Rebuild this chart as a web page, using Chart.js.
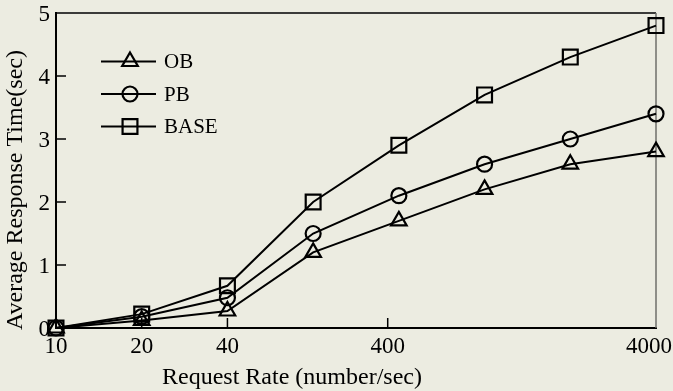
<!DOCTYPE html>
<html>
<head>
<meta charset="utf-8">
<script src="https://cdn.jsdelivr.net/npm/chart.js@4/dist/chart.umd.min.js"></script>
<style>
  html, body { margin: 0; padding: 0; background: #ECECE1; }
  #wrap { width: 673px; height: 391px; }
</style>
</head>
<body>
<div id="wrap"><canvas id="c" width="673" height="391"></canvas></div>
<script>
// Measurement steps along the request-rate axis (evenly spaced)
const pointIndex = [0, 1, 2, 3, 4, 5, 6, 7];

// Average response time (sec) per scheme
const obTimes   = [0, 0.12, 0.27, 1.20, 1.70, 2.20, 2.60, 2.80];
const pbTimes   = [0, 0.18, 0.48, 1.50, 2.10, 2.60, 3.00, 3.40];
const baseTimes = [0, 0.22, 0.67, 2.00, 2.90, 3.70, 4.30, 4.80];

// Request-rate tick labels and where they sit on the step axis
const rateTickAt     = [0, 1, 2, 3.87, 7];
const rateTickLabels = ['10', '20', '40', '400', '4000'];

const seriesNames = ['OB', 'PB', 'BASE'];

const SERIF = "'Liberation Serif', 'Times New Roman', serif";
const BG = '#ECECE1';

function pts(values) {
  return pointIndex.map((x, i) => ({ x: x, y: values[i] }));
}

function series(label, values, pointStyle, radius) {
  return {
    label: label,
    data: pts(values),
    borderColor: '#000',
    borderWidth: 2,
    backgroundColor: 'rgba(0,0,0,0)',
    pointStyle: pointStyle,
    pointRadius: radius,
    pointHoverRadius: radius,
    pointBorderWidth: 2.2,
    pointBorderColor: '#000',
    pointBackgroundColor: 'rgba(0,0,0,0)',
    tension: 0,
    clip: false
  };
}

// Background, frame, inward ticks, x labels, axis titles and in-plot legend
const decorations = {
  id: 'decorations',
  beforeDraw(chart) {
    const ctx = chart.ctx;
    ctx.save();
    ctx.fillStyle = BG;
    ctx.fillRect(0, 0, chart.width, chart.height);
    ctx.restore();
  },
  beforeDatasetsDraw(chart) {
    const ctx = chart.ctx;
    const a = chart.chartArea;
    const xs = chart.scales.x;
    const ys = chart.scales.y;
    ctx.save();

    // top and right frame
    ctx.lineWidth = 1.5;
    ctx.strokeStyle = '#000';
    ctx.beginPath();
    ctx.moveTo(a.left, a.top);
    ctx.lineTo(a.right, a.top);
    ctx.stroke();
    ctx.strokeStyle = '#6f6f6a';
    ctx.beginPath();
    ctx.moveTo(a.right, a.top);
    ctx.lineTo(a.right, a.bottom);
    ctx.stroke();

    // inward tick marks
    ctx.strokeStyle = '#000';
    ctx.lineWidth = 1.5;
    ys.ticks.forEach(t => {
      if (t.value <= ys.min || t.value >= ys.max) return;
      const py = ys.getPixelForValue(t.value);
      ctx.beginPath();
      ctx.moveTo(a.left, py);
      ctx.lineTo(a.left + 10, py);
      ctx.stroke();
    });
    rateTickAt.forEach(v => {
      if (v <= xs.min || v >= xs.max) return;
      const px = xs.getPixelForValue(v);
      ctx.beginPath();
      ctx.moveTo(px, a.bottom);
      ctx.lineTo(px, a.bottom - 10);
      ctx.stroke();
    });

    // x tick labels, kept inside the canvas
    ctx.fillStyle = '#000';
    ctx.font = '23px ' + SERIF;
    ctx.textBaseline = 'middle';
    ctx.textAlign = 'left';
    rateTickLabels.forEach((lab, i) => {
      const w = ctx.measureText(lab).width;
      let px = xs.getPixelForValue(rateTickAt[i]) - w / 2;
      px = Math.min(px, chart.width - 1 - w);
      ctx.fillText(lab, px, a.bottom + 19);
    });

    // axis titles
    ctx.font = '24px ' + SERIF;
    ctx.textBaseline = 'alphabetic';
    ctx.textAlign = 'center';
    ctx.fillText('Request Rate (number/sec)', 292, a.bottom + 56);
    ctx.save();
    ctx.translate(22, a.bottom + 2);
    ctx.rotate(-Math.PI / 2);
    ctx.textAlign = 'left';
    ctx.fillText('Average Response Time(sec)', 0, 0);
    ctx.restore();

    // legend inside the plot
    ctx.font = '21px ' + SERIF;
    ctx.textBaseline = 'middle';
    ctx.textAlign = 'left';
    chart.data.datasets.forEach((ds, i) => {
      const y = a.top + 48.5 + i * 32.5;
      const x0 = a.left + 45;
      ctx.strokeStyle = '#000';
      ctx.lineWidth = 2;
      ctx.beginPath();
      ctx.moveTo(x0, y);
      ctx.lineTo(x0 + 55, y);
      ctx.stroke();
      ctx.lineWidth = 2.2;
      ctx.fillStyle = 'rgba(0,0,0,0)';
      Chart.helpers.drawPoint(ctx, {
        pointStyle: ds.pointStyle,
        radius: ds.pointRadius,
        borderWidth: 2.2,
        rotation: 0
      }, x0 + 29, y);
      ctx.fillStyle = '#000';
      ctx.fillText(ds.label, x0 + 63, y + 1);
    });
    ctx.restore();
  }
};

new Chart(document.getElementById('c'), {
  type: 'line',
  data: {
    datasets: [
      series(seriesNames[0], obTimes, 'triangle', 9),
      series(seriesNames[1], pbTimes, 'circle', 7.5),
      series(seriesNames[2], baseTimes, 'rect', 10.5)
    ]
  },
  options: {
    responsive: false,
    animation: false,
    devicePixelRatio: 1,
    layout: { padding: { top: 13, right: 17, left: 0, bottom: 0 } },
    plugins: {
      legend: { display: false },
      tooltip: { enabled: false }
    },
    scales: {
      x: {
        type: 'linear',
        min: 0,
        max: 7,
        grid: { display: false, drawTicks: false },
        border: { display: true, color: '#000', width: 2 },
        ticks: { display: false },
        afterFit(scale) {
          scale.height = 63;
          scale.paddingLeft = 0;
          scale.paddingRight = 0;
        }
      },
      y: {
        type: 'linear',
        min: 0,
        max: 5,
        grid: { display: false, drawTicks: false },
        border: { display: true, color: '#000', width: 2 },
        ticks: {
          stepSize: 1,
          color: '#000',
          padding: 6,
          labelOffset: 2,
          font: { family: SERIF, size: 23 }
        },
        afterFit(scale) {
          scale.width = 56;
          scale.paddingTop = 0;
          scale.paddingBottom = 0;
        }
      }
    }
  },
  plugins: [decorations]
});
</script>
</body>
</html>
